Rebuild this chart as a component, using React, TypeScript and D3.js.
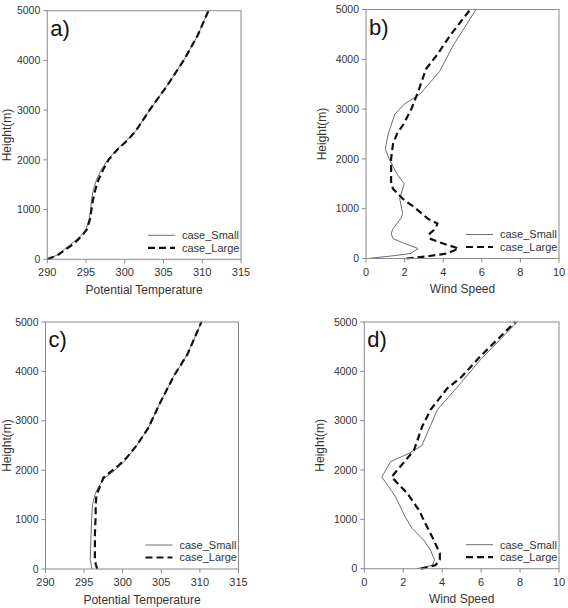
import React from "react";
import * as d3 from "d3";

// Heights (m) shared by each profile
const heightsA = [0, 50, 100, 200, 300, 400, 500, 600, 800, 1000, 1200, 1400, 1600, 1800, 2000, 2200, 2400, 2600, 3000, 3500, 4000, 4500, 5000];
const thetaSmallA = [290.0, 290.8, 291.4, 292.2, 293.0, 293.8, 294.5, 295.0, 295.4, 295.6, 295.7, 295.95, 296.35, 296.95, 297.8, 298.9, 300.3, 301.5, 303.2, 305.5, 307.6, 309.4, 310.8];
const thetaLargeA = [290.0, 290.8, 291.5, 292.4, 293.3, 294.0, 294.6, 295.1, 295.5, 295.7, 295.9, 296.2, 296.6, 297.2, 297.9, 299.0, 300.4, 301.5, 303.2, 305.5, 307.6, 309.4, 310.8];

const heightsSmallB = [0, 50, 100, 200, 300, 400, 500, 600, 800, 900, 1000, 1200, 1400, 1500, 1700, 2000, 2200, 2500, 2900, 3100, 3300, 3750, 4300, 5000];
const windSmallB = [0.1, 1.3, 2.3, 2.7, 2.0, 1.4, 1.3, 1.4, 1.8, 1.9, 1.85, 1.75, 1.9, 1.98, 1.6, 1.2, 1.0, 1.15, 1.5, 1.98, 2.8, 3.8, 4.55, 5.7];
const heightsLargeB = [0, 50, 100, 200, 300, 400, 500, 600, 700, 800, 1000, 1200, 1400, 1500, 2000, 2300, 2500, 2700, 3000, 3400, 3800, 4100, 4500, 5000];
const windLargeB = [2.1, 3.3, 4.2, 4.8, 4.0, 3.3, 3.3, 3.6, 3.7, 3.2, 2.6, 1.9, 1.4, 1.3, 1.3, 1.4, 1.6, 1.95, 2.35, 2.75, 3.1, 3.7, 4.4, 5.4];

const heightsC = [0, 100, 200, 700, 1100, 1300, 1500, 1650, 1850, 1950, 2100, 2250, 2500, 2850, 3350, 3900, 4350, 5000];
const thetaSmallC = [296.0, 295.9, 295.8, 295.9, 296.0, 296.1, 296.4, 296.8, 297.7, 298.6, 299.7, 300.6, 301.8, 303.3, 304.8, 306.6, 308.4, 310.2];
const thetaLargeC = [296.7, 296.5, 296.4, 296.4, 296.5, 296.5, 296.6, 297.0, 297.5, 298.3, 299.5, 300.5, 301.8, 303.3, 304.8, 306.6, 308.4, 310.2];

const heightsSmallD = [0, 70, 180, 380, 580, 820, 1050, 1460, 1860, 2170, 2340, 2490, 3220, 3760, 4230, 5000];
const windSmallD = [2.7, 3.5, 3.6, 3.4, 3.05, 2.45, 2.1, 1.6, 0.9, 1.35, 2.3, 2.95, 3.75, 4.95, 5.95, 7.85];
const heightsLargeD = [0, 70, 180, 310, 580, 850, 1190, 1530, 1860, 2140, 2400, 2880, 3220, 3650, 3890, 4300, 5000];
const windLargeD = [2.9, 3.65, 3.88, 3.88, 3.57, 3.22, 2.8, 2.2, 1.4, 2.0, 2.55, 2.97, 3.4, 4.25, 5.0, 5.95, 7.75];

const tempTicks = [290, 295, 300, 305, 310, 315];
const windTicks = [0, 2, 4, 6, 8, 10];
const heightTicks = [0, 1000, 2000, 3000, 4000, 5000];
const seriesNames = ["case_Small", "case_Large"];

type Profile = { h: number[]; v: number[] };
type Panel = {
  tag: string;
  box: { x0: number; x1: number; y0: number; y1: number };
  domain: [number, number];
  ticks: number[];
  xTitle: string;
  small: Profile;
  large: Profile;
};

const panels: Panel[] = [
  {
    tag: "a)",
    box: { x0: 47.3, x1: 241, y0: 10.7, y1: 259.3 },
    domain: [290, 315],
    ticks: tempTicks,
    xTitle: "Potential Temperature",
    small: { h: heightsA, v: thetaSmallA },
    large: { h: heightsA, v: thetaLargeA },
  },
  {
    tag: "b)",
    box: { x0: 366, x1: 559, y0: 9.5, y1: 258.5 },
    domain: [0, 10],
    ticks: windTicks,
    xTitle: "Wind Speed",
    small: { h: heightsSmallB, v: windSmallB },
    large: { h: heightsLargeB, v: windLargeB },
  },
  {
    tag: "c)",
    box: { x0: 45.5, x1: 238.5, y0: 322, y1: 569 },
    domain: [290, 315],
    ticks: tempTicks,
    xTitle: "Potential Temperature",
    small: { h: heightsC, v: thetaSmallC },
    large: { h: heightsC, v: thetaLargeC },
  },
  {
    tag: "d)",
    box: { x0: 364.3, x1: 559, y0: 322, y1: 568.7 },
    domain: [0, 10],
    ticks: windTicks,
    xTitle: "Wind Speed",
    small: { h: heightsSmallD, v: windSmallD },
    large: { h: heightsLargeD, v: windLargeD },
  },
];

const FONT = "Liberation Sans, Arial, sans-serif";
const FRAME = "#8a8a8a";
const TEXT = "#333";

function ProfilePanel({ p }: { p: Panel }) {
  const { x0, x1, y0, y1 } = p.box;
  const x = d3.scaleLinear().domain(p.domain).range([x0, x1]);
  const y = d3.scaleLinear().domain([0, 5000]).range([y1, y0]);
  const line = d3
    .line<[number, number]>()
    .x((d) => x(d[0]))
    .y((d) => y(d[1]));
  const pts = (pr: Profile) => pr.v.map((v, i) => [v, pr.h[i]] as [number, number]);
  const legX = x1 - 93;
  const legY = y1 - 24;
  // keep the rotated axis title inside the page on the left-hand panels
  const yTitleX = Math.max(x0 - 40, 11);
  return (
    <g>
      {/* plotted profiles */}
      <path d={line(pts(p.small)) ?? ""} fill="none" stroke="#6e6e6e" strokeWidth={1} />
      <path d={line(pts(p.large)) ?? ""} fill="none" stroke="#111" strokeWidth={2.2} strokeDasharray="7,4" />
      {/* frame */}
      <rect x={x0} y={y0} width={x1 - x0} height={y1 - y0} fill="none" stroke={FRAME} strokeWidth={1} />
      {/* y axis */}
      {heightTicks.map((t) => (
        <g key={"y" + t}>
          <line x1={x0 - 4} x2={x0} y1={y(t)} y2={y(t)} stroke={FRAME} />
          <text x={x0 - 7} y={y(t)} dy="0.35em" textAnchor="end" fontSize={10.5} fill={TEXT} fontFamily={FONT}>
            {t}
          </text>
        </g>
      ))}
      {/* x axis */}
      {p.ticks.map((t) => (
        <g key={"x" + t}>
          <line x1={x(t)} x2={x(t)} y1={y1} y2={y1 + 4} stroke={FRAME} />
          <text x={x(t)} y={y1 + 17} textAnchor="middle" fontSize={11} fill={TEXT} fontFamily={FONT}>
            {t}
          </text>
        </g>
      ))}
      <text
        transform={`translate(${yTitleX},${(y0 + y1) / 2}) rotate(-90)`}
        textAnchor="middle"
        fontSize={12}
        fill={TEXT}
        fontFamily={FONT}
      >
        Height(m)
      </text>
      <text x={(x0 + x1) / 2} y={y1 + 34.5} textAnchor="middle" fontSize={12} fill={TEXT} fontFamily={FONT}>
        {p.xTitle}
      </text>
      <text x={x0 + 3} y={y0 + 25} fontSize={22} fill="#111" fontFamily={FONT}>
        {p.tag}
      </text>
      {/* legend */}
      <line x1={legX} x2={legX + 27} y1={legY} y2={legY} stroke="#6e6e6e" strokeWidth={1} />
      <line x1={legX} x2={legX + 27} y1={legY + 12.5} y2={legY + 12.5} stroke="#111" strokeWidth={2.2} strokeDasharray="7,4" />
      <text x={legX + 34} y={legY} dy="0.35em" fontSize={11} fill={TEXT} fontFamily={FONT}>
        {seriesNames[0]}
      </text>
      <text x={legX + 34} y={legY + 12.5} dy="0.35em" fontSize={11} fill={TEXT} fontFamily={FONT}>
        {seriesNames[1]}
      </text>
    </g>
  );
}

export default function App() {
  return (
    <svg
      width={568}
      height={608}
      viewBox="0 0 568 608"
      style={{ position: "absolute", left: 0, top: 0, background: "#fff" }}
    >
      <rect width={568} height={608} fill="#fff" />
      {panels.map((p) => (
        <ProfilePanel key={p.tag} p={p} />
      ))}
    </svg>
  );
}
